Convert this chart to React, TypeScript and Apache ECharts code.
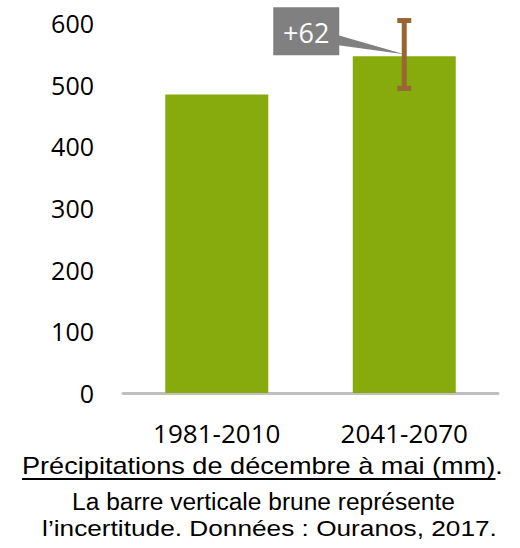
import React, { useEffect, useRef } from "react";
import * as echarts from "echarts";

const categories = ["1981-2010", "2041-2070"];
const precipitation = [484, 546];
const uncertaintyLow = [494];
const uncertaintyHigh = [604];
const uncertaintyIndex = [1];
const yTicks = { min: 0, max: 600, interval: 100 };
const titleText = "Précipitations de décembre à mai (mm)";
const captionLines = ["La barre verticale brune représente", "l’incertitude. Données : Ouranos, 2017."];

function measure(text: string, font: string): number {
  const c = document.createElement("canvas");
  const ctx = c.getContext("2d");
  if (!ctx) return 1;
  ctx.font = font;
  return ctx.measureText(text).width || 1;
}

export default function App() {
  const ref = useRef<HTMLDivElement>(null);
  useEffect(() => {
    if (!ref.current) return;
    const chart = echarts.init(ref.current, null, { renderer: "svg" });
    const diff = precipitation[1] - precipitation[0];
    const errData = uncertaintyIndex.map((c, i) => [c, uncertaintyLow[i], uncertaintyHigh[i], precipitation[c]]);
    const capFont = "23px 'Liberation Sans'";
    const titleFull = titleText + ".";
    const sTitle = 481 / measure(titleFull, capFont);
    const underlineEnd = 22 + measure(titleText, capFont) * sTitle;
    const s1 = 383 / measure(captionLines[0], capFont);
    const s2 = 455 / measure(captionLines[1], capFont);
    chart.setOption({
      animation: false,
      grid: { left: 123, right: 22, top: 23, bottom: 155, containLabel: false },
      xAxis: {
        type: "category",
        data: categories,
        axisLine: { show: true, lineStyle: { color: "#bfbfbf", width: 3 } },
        axisTick: { show: false },
        axisLabel: { color: "#000", fontFamily: "Open Sans", fontSize: 26, margin: 27 },
      },
      yAxis: {
        type: "value",
        min: yTicks.min,
        max: yTicks.max,
        interval: yTicks.interval,
        axisLine: { show: false },
        axisTick: { show: false },
        splitLine: { show: false },
        axisLabel: { color: "#000", fontFamily: "Open Sans", fontSize: 25, margin: 29 },
      },
      series: [
        {
          type: "bar",
          data: precipitation,
          barWidth: 103,
          itemStyle: { color: "#87ab0c" },
          z: 2,
        },
        {
          type: "custom",
          data: errData,
          z: 5,
          renderItem: (params: any, api: any) => {
            const c = api.value(0);
            const lo = api.coord([c, api.value(1)]);
            const hi = api.coord([c, api.value(2)]);
            const top = api.coord([c, api.value(3)]);
            const x = hi[0];
            const color = "#996633";
            const ax = x;
            const ay = top[1] - 2;
            return {
              type: "group",
              children: [
                { type: "polygon", shape: { points: [[ax - 66, ay - 19], [ax - 66, ay - 9], [ax, ay]] }, style: { fill: "#808080" } },
                { type: "rect", shape: { x: ax - 131, y: ay - 47, width: 66, height: 48 }, style: { fill: "#808080" } },
                { type: "text", x: ax - 98, y: ay - 22, style: { text: "+" + diff, fill: "#fff", font: "27px 'Open Sans'", align: "center", verticalAlign: "middle" } },
                { type: "rect", shape: { x: x - 2.5, y: hi[1], width: 5, height: lo[1] - hi[1] }, style: { fill: color } },
                { type: "rect", shape: { x: x - 7, y: hi[1] - 2.5, width: 14, height: 5 }, style: { fill: color } },
                { type: "rect", shape: { x: x - 7, y: lo[1] - 2.5, width: 14, height: 5 }, style: { fill: color } },
              ],
            };
          },
        },
      ],
      graphic: [
        { type: "text", x: 22, y: 466, scaleX: sTitle, style: { text: titleFull, fill: "#000", font: capFont, align: "left", verticalAlign: "middle" } },
        { type: "line", shape: { x1: 22, y1: 479, x2: underlineEnd, y2: 479 }, style: { stroke: "#000", lineWidth: 2 } },
        { type: "text", x: 263.5, y: 502, scaleX: s1, style: { text: captionLines[0], fill: "#000", font: capFont, align: "center", verticalAlign: "middle" } },
        { type: "text", x: 269.5, y: 528, scaleX: s2, style: { text: captionLines[1], fill: "#000", font: capFont, align: "center", verticalAlign: "middle" } },
      ],
    });
    return () => chart.dispose();
  }, []);
  return <div ref={ref} style={{ position: "fixed", left: 0, top: 0, width: 520, height: 548, background: "#fff" }} />;
}
